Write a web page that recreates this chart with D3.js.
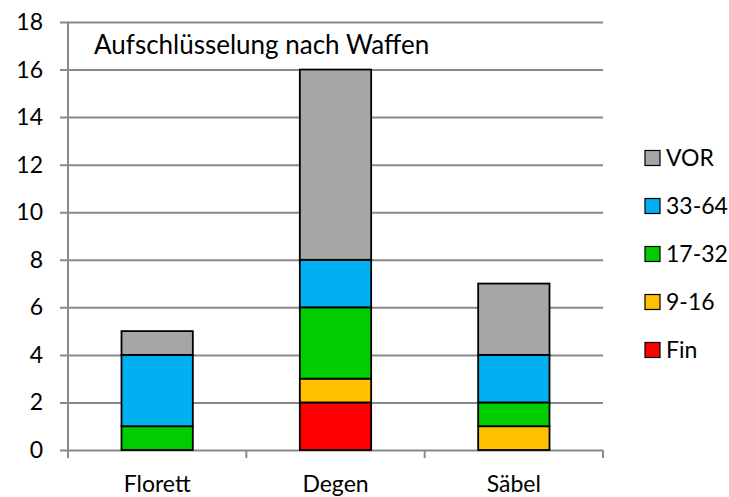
<!DOCTYPE html>
<html>
<head>
<meta charset="utf-8">
<script src="https://cdn.jsdelivr.net/npm/d3@7"></script>
<style>
  body { margin: 0; background: #fff; }
  svg text { font-family: Lato, "Open Sans", sans-serif; fill: #000; }
  .axis path, .axis line { stroke: #898989; }
</style>
</head>
<body>
<svg id="chart"></svg>
<script>
// Aufschlüsselung nach Waffen - stacked bars
var categories = ["Florett", "Degen", "Säbel"];
var seriesNames = ["Fin", "9-16", "17-32", "33-64", "VOR"];
var fin    = [0, 2, 0];
var r9_16  = [0, 1, 1];
var r17_32 = [1, 3, 1];
var r33_64 = [3, 2, 2];
var vor    = [1, 8, 3];
var yTicks = [0, 2, 4, 6, 8, 10, 12, 14, 16, 18];
var seriesColors = ["#FF0000", "#FFC000", "#00CC00", "#00B0F0", "#A6A6A6"];

var margin = {top: 22, right: 126, bottom: 47, left: 68},
    width = 729 - margin.left - margin.right,
    height = 497 - margin.top - margin.bottom;

var svg = d3.select("#chart")
    .attr("width", 729)
    .attr("height", 497);

var g = svg.append("g")
    .attr("transform", "translate(" + margin.left + "," + margin.top + ")");

var xscale = d3.scaleBand().domain(categories).range([0, width]).paddingInner(0).paddingOuter(0);
var yscale = d3.scaleLinear().domain([0, 18]).range([height, 0]);
var colors = d3.scaleOrdinal().domain(seriesNames).range(seriesColors);

// build table for d3.stack
var table = categories.map(function(c, i) {
  return {cat: c, "Fin": fin[i], "9-16": r9_16[i], "17-32": r17_32[i], "33-64": r33_64[i], "VOR": vor[i]};
});
var stacked = d3.stack().keys(seriesNames)(table);

// gridlines with outside ticks
g.append("g")
  .attr("class", "axis")
  .call(d3.axisLeft(yscale).tickValues(yTicks).tickSize(-width - 8).tickFormat(""))
  .attr("transform", "translate(-8,0)")
  .call(function(s) { s.select(".domain").remove(); s.selectAll("line").attr("stroke-width", 2); });

// y labels
g.selectAll(".ylab")
  .data(yTicks)
  .enter().append("text")
  .attr("x", -25)
  .attr("y", function(d) { return yscale(d); })
  .attr("dy", "0.35em")
  .attr("text-anchor", "end")
  .style("font-size", "23px")
  .text(function(d) { return d; });

// y axis line
g.append("line")
  .attr("x1", 0).attr("x2", 0)
  .attr("y1", 0).attr("y2", height)
  .attr("stroke", "#898989").attr("stroke-width", 2);

// x axis with boundary ticks
var xBounds = categories.map(function(c) { return xscale(c); }).concat([width]);
g.selectAll(".xtick")
  .data(xBounds)
  .enter().append("line")
  .attr("x1", function(d) { return d; }).attr("x2", function(d) { return d; })
  .attr("y1", height).attr("y2", height + 8)
  .attr("stroke", "#898989").attr("stroke-width", 2);

g.selectAll(".xlab")
  .data(categories)
  .enter().append("text")
  .attr("x", function(d) { return xscale(d) + xscale.bandwidth() / 2; })
  .attr("y", height + 42)
  .attr("text-anchor", "middle")
  .style("font-size", "23px")
  .text(function(d) { return d; });

// bars
var barW = xscale.bandwidth() * 0.4;
var layer = g.selectAll(".layer")
  .data(stacked)
  .enter().append("g")
  .attr("class", "layer")
  .attr("fill", function(d) { return colors(d.key); });

layer.selectAll("rect")
  .data(function(d) { return d.filter(function(p) { return p[1] - p[0] > 0; }); })
  .enter().append("rect")
  .attr("x", function(d) { return xscale(d.data.cat) + (xscale.bandwidth() - barW) / 2; })
  .attr("y", function(d) { return yscale(d[1]); })
  .attr("width", barW)
  .attr("height", function(d) { return yscale(d[0]) - yscale(d[1]); })
  .attr("stroke", "#000")
  .attr("stroke-width", 1.8);

// title
g.append("text")
  .attr("x", 26)
  .attr("y", 32)
  .style("font-size", "26px")
  .text("Aufschlüsselung nach Waffen");

// legend (top to bottom: VOR ... Fin)
var legend = svg.selectAll(".legend")
  .data(seriesNames.slice().reverse())
  .enter().append("g")
  .attr("class", "legend")
  .attr("transform", function(d, i) { return "translate(645," + (158 + i * 48) + ")"; });

legend.append("rect")
  .attr("x", 0).attr("y", -7.5)
  .attr("width", 15).attr("height", 15)
  .attr("fill", colors)
  .attr("stroke", "#000").attr("stroke-width", 1.2);

legend.append("text")
  .attr("x", 21)
  .attr("y", 0)
  .attr("dy", "0.35em")
  .style("font-size", "23px")
  .text(function(d) { return d; });
</script>
</body>
</html>
